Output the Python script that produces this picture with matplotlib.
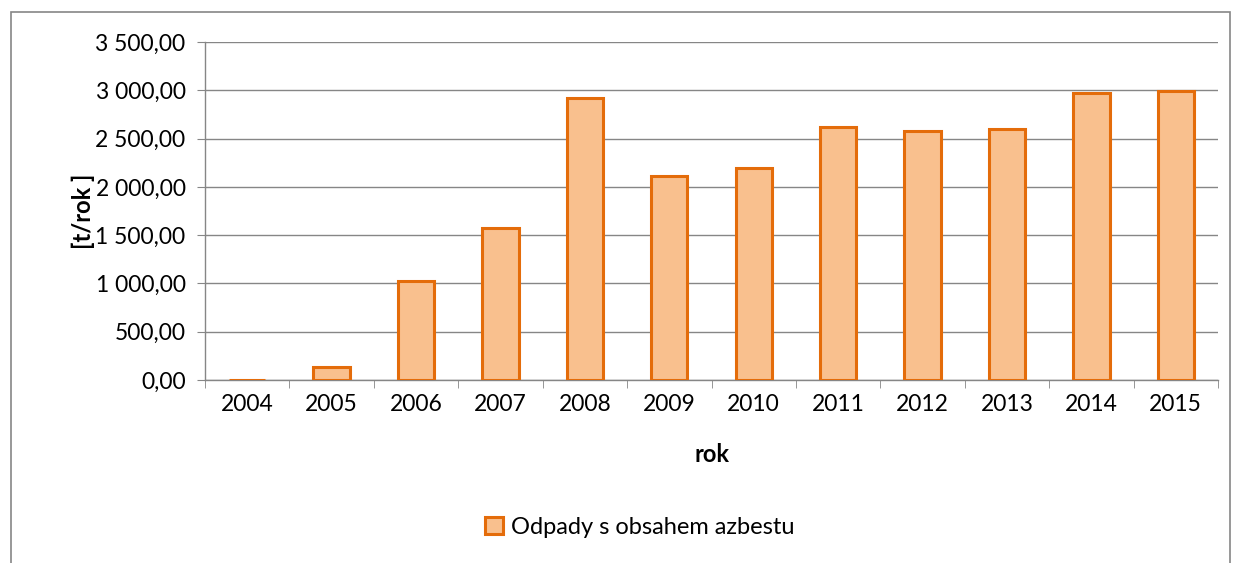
import numpy as np
import matplotlib.pyplot as plt
from matplotlib.patches import Rectangle

# data
years = ['2004', '2005', '2006', '2007', '2008', '2009',
         '2010', '2011', '2012', '2013', '2014', '2015']
values = [5, 138, 1028, 1570, 2922, 2111, 2191, 2615, 2577, 2601, 2974, 2988]
series_name = 'Odpady s obsahem azbestu'
yticks = [0, 500, 1000, 1500, 2000, 2500, 3000, 3500]

plt.rcParams['font.family'] = ['Lato', 'DejaVu Sans']

fig = plt.figure(figsize=(12.36, 5.63), dpi=100)
ax = fig.add_axes([205/1236, 1 - 380/563, (1218-205)/1236, (380-42)/563])

# outer chart frame
fig.patches.append(Rectangle((11/1236, -0.05), (1230-11)/1236, 1.05 - 12/563,
                             transform=fig.transFigure, fill=False,
                             edgecolor='#868686', linewidth=1.2))

x = np.arange(len(years))
ax.bar(x, values, width=0.43, color='#F9C08E', edgecolor='#E46C0A',
       linewidth=2.2, label=series_name, zorder=3)

ax.set_xlim(-0.5, len(years) - 0.5)
ax.set_ylim(0, 3500)
ax.set_yticks(yticks)
ax.set_yticklabels([f'{v:,.2f}'.replace(',', ' ').replace('.', ',') for v in yticks])
ax.set_xticks(x)
ax.set_xticklabels(years)
ax.set_xticks(np.arange(-0.5, len(years)), minor=True)

ax.grid(axis='y', color='#868686', linewidth=1.0, zorder=0)
for s in ['top', 'right']:
    ax.spines[s].set_visible(False)
for s in ['left', 'bottom']:
    ax.spines[s].set_color('#868686')
    ax.spines[s].set_linewidth(1.0)

ax.tick_params(axis='y', length=6, color='#868686', labelsize=16.5, pad=8)
ax.tick_params(axis='x', which='major', length=0, labelsize=16.5, pad=10)
ax.tick_params(axis='x', which='minor', length=6, color='#868686')

ax.set_xlabel('rok', fontsize=17, fontweight='bold', labelpad=20)
ax.set_ylabel('[t/rok ]', fontsize=17, fontweight='bold', labelpad=0)

fig.legend(loc='center', bbox_to_anchor=(640/1236, 1 - 527/563), frameon=False,
           fontsize=17, handlelength=0.75, handleheight=0.75, handletextpad=0.35)

plt.savefig('out.png')
